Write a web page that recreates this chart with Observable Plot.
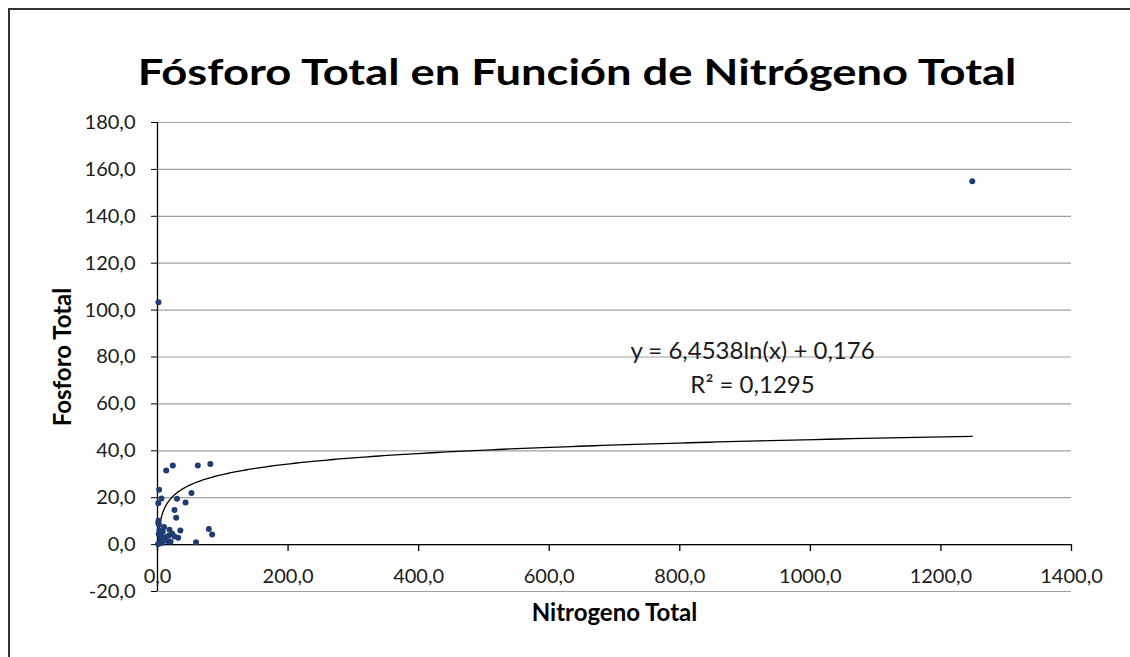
<!DOCTYPE html>
<html>
<head>
<meta charset="utf-8">
<script src="https://cdn.jsdelivr.net/npm/d3@7"></script>
<script src="https://cdn.jsdelivr.net/npm/@observablehq/plot@0.6"></script>
<style>
  html, body { margin: 0; padding: 0; background: #fff; overflow: hidden; }
  #wrap { position: relative; width: 1130px; height: 657px; overflow: hidden; font-family: Lato, "Liberation Sans", sans-serif; }
  #border { position: absolute; left: 8px; top: 8px; width: 1300px; height: 800px; border-left: 2px solid #333; border-top: 2px solid #333; }
  #title { position: absolute; top: 53px; left: 0; width: 1154px; text-align: center; font-weight: 700; font-size: 36px; line-height: 36px; color: #000; white-space: nowrap; transform: scaleX(1.26); transform-origin: 577px 0; }
  #chart { position: absolute; left: 0; top: 110px; }
</style>
</head>
<body>
<div id="wrap">
  <div id="border"></div>
  <div id="title">Fósforo Total en Función de Nitrógeno Total</div>
  <div id="chart"></div>
</div>
<script>
// Nitrogeno Total (x) and Fosforo Total (y)
const nitrogeno = [1248, 1.5, 13.3, 23.5, 61.7, 81, 2.5, 6, 1.2, 30, 43, 52, 26, 28.6, 78.6, 83.7, 59, 35, 31.7, 18.4, 22.5,
  1.5, 2, 1.3, 3, 1.8, 5, 8, 12, 15, 4, 2.5, 1, 10, 6, 7, 20, 26, 17];
const fosforo   = [155, 103.4, 31.6, 33.7, 33.7, 34.4, 23.4, 19.7, 17.6, 19.5, 18, 22, 14.8, 11.4, 6.7, 4.3, 1, 6, 2.9, 6.3, 4.6,
  10.2, 8.6, 9.2, 6, 4.5, 3.5, 5.5, 3.1, 1.5, 1, 0.5, 0.3, 7.5, 2.5, 0.8, 1.2, 3.5, 3.8];

// Logarithmic trend line reported on the chart: y = a ln(x) + b
const trendA = 6.4538;
const trendB = 0.176;
const equationLabel = "y = 6,4538ln(x) + 0,176";
const r2Label = "R² = 0,1295";

const xTicks = [0, 200, 400, 600, 800, 1000, 1200, 1400];
const yTicks = [-20, 0, 20, 40, 60, 80, 100, 120, 140, 160, 180];

const fmt = d => d.toFixed(1).replace(".", ",");

const points = nitrogeno.map((x, i) => ({x, y: fosforo[i]}));
const xMin = d3.min(nitrogeno), xMax = d3.max(nitrogeno);
const trend = d3.range(0, 401).map(k => {
  const x = xMin * Math.pow(xMax / xMin, k / 400);
  return {x, y: trendA * Math.log(x) + trendB};
});

const chart = Plot.plot({
  width: 1130,
  height: 547,
  marginLeft: 157,
  marginRight: 59,
  marginTop: 12,
  marginBottom: 66,
  style: {fontFamily: "Lato, 'Liberation Sans', sans-serif", fontSize: "20px", color: "#1a1a1a", background: "transparent", overflow: "visible"},
  x: {domain: [0, 1400], axis: null},
  y: {domain: [-20, 180], axis: null},
  marks: [
    Plot.ruleY(yTicks, {stroke: "#a0a0a0", strokeWidth: 1.2}),
    Plot.axisY({ticks: yTicks, tickFormat: fmt, tickSize: 6, tickPadding: 16, stroke: "#000", label: null}),
    Plot.ruleY([0], {stroke: "#000", strokeWidth: 1.3}),
    Plot.ruleX([0], {stroke: "#000", strokeWidth: 1.3}),
    Plot.ruleX(xTicks, {x: d => d, y1: 0, y2: 0, insetBottom: -7, stroke: "#000", strokeWidth: 1.3}),
    Plot.text(xTicks, {x: d => d, y: 0, dy: 32, text: fmt, fill: "#1a1a1a"}),
    Plot.line(trend, {x: "x", y: "y", stroke: "#000", strokeWidth: 1.3}),
    Plot.dot(points, {x: "x", y: "y", r: 3, fill: "#1f3c73", stroke: "none"}),
    Plot.text([equationLabel], {frameAnchor: "top-left", dx: 595, dy: 219, text: d => d, textAnchor: "middle", fontSize: 24, fill: "#1a1a1a"}),
    Plot.text([r2Label], {frameAnchor: "top-left", dx: 595, dy: 253, text: d => d, textAnchor: "middle", fontSize: 24, fill: "#1a1a1a"}),
    Plot.text(["Nitrogeno Total"], {frameAnchor: "bottom", dy: 29, text: d => d, fontWeight: "bold", fontSize: 24, fill: "#000"}),
    Plot.text(["Fosforo Total"], {frameAnchor: "left", dx: -94, rotate: -90, textAnchor: "middle", text: d => d, fontWeight: "bold", fontSize: 24, fill: "#000"})
  ]
});
document.getElementById("chart").append(chart);
</script>
</body>
</html>
